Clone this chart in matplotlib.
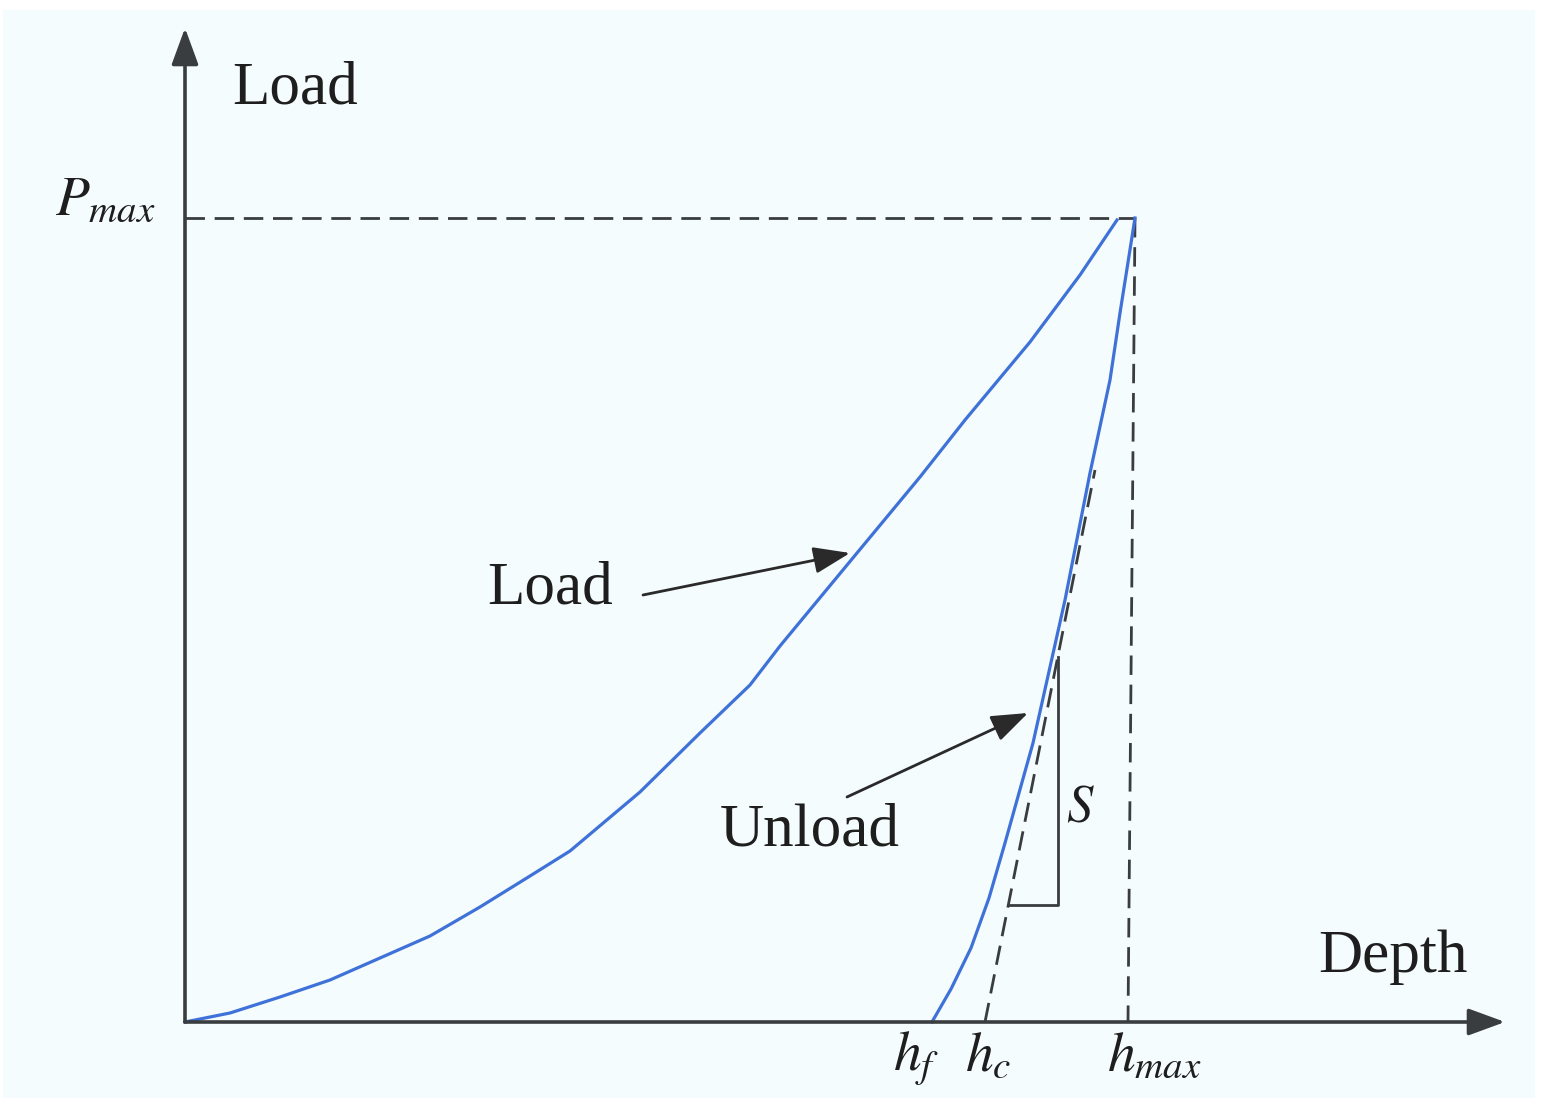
import matplotlib
matplotlib.use("Agg")
import matplotlib.pyplot as plt
from matplotlib.patches import Rectangle

plt.rcParams['font.family'] = 'Liberation Serif'
plt.rcParams['mathtext.fontset'] = 'stix'

# load branch (depth, load) in arbitrary units
load_depth = [0, 0.45, 0.95, 1.45, 1.95, 2.45, 2.95, 3.45, 3.85, 4.55, 5.15,
              5.65, 5.95, 6.72, 7.35, 7.80, 8.45, 8.95, 9.32]
load_force = [0, 0.09, 0.25, 0.42, 0.64, 0.86, 1.15, 1.46, 1.71, 2.30, 2.89,
              3.37, 3.76, 4.69, 5.45, 6.02, 6.80, 7.47, 8.02]

# unload branch
unload_depth = [9.50, 9.35, 9.25, 9.05, 8.80, 8.48, 8.20, 8.04, 7.86, 7.66, 7.47]
unload_force = [8.04, 7.09, 6.42, 5.49, 4.22, 2.79, 1.79, 1.24, 0.74, 0.33, 0.0]

p_max = 8.04
h_max = [9.50, 9.43]   # top / bottom of the dashed h_max line
h_c = 8.00
h_f = 7.47

# tangent (stiffness S) and its slope triangle
tangent_depth = [h_c, 9.10]
tangent_force = [0, 5.52]
tri_depth = [8.73, 8.73, 8.23]
tri_force = [3.65, 1.17, 1.17]

x_axis_end = 13.20
y_axis_end = 9.94

blue = '#3f72d8'
dark = '#3a3d40'
ink = '#1e1e1e'

fig = plt.figure(figsize=(15.57, 11.07), dpi=100)
fig.patch.set_facecolor('white')
fig.add_artist(Rectangle((3 / 1557, 9 / 1107), 1532 / 1557, 1088 / 1107,
                         transform=fig.transFigure, facecolor='#f5fcfd',
                         edgecolor='none', zorder=0))

ax = fig.add_axes([0, 0, 1, 1])
ax.set_xlim(-1.85, 13.72)
ax.set_ylim(-0.85, 10.22)
ax.axis('off')
ax.patch.set_alpha(0)

dash = (0, (7, 3.5))

# axes with arrow heads
axis_kw = dict(arrowstyle='-|>,head_length=1.5,head_width=0.55',
               mutation_scale=15, lw=2.6, color=dark, shrinkA=0, shrinkB=0)
ax.annotate('', xy=(x_axis_end, 0), xytext=(0, 0), arrowprops=axis_kw)
ax.annotate('', xy=(0, y_axis_end), xytext=(0, 0), arrowprops=axis_kw)

# dashed reference lines
ax.plot([0, h_max[0]], [p_max, p_max], color=dark, lw=2, linestyle=dash)
ax.plot(h_max, [p_max, 0], color=dark, lw=2, linestyle=dash)
ax.plot(tangent_depth, tangent_force, color=dark, lw=2, linestyle=dash)
ax.plot(tri_depth, tri_force, color=dark, lw=2)

# curves
ax.plot(load_depth, load_force, color=blue, lw=2.3, solid_joinstyle='round')
ax.plot(unload_depth, unload_force, color=blue, lw=2.3, solid_joinstyle='round')

# annotation arrows
arrow_kw = dict(arrowstyle='-|>,head_length=1.5,head_width=0.55',
                mutation_scale=15, lw=2, color='#2a2a2a', shrinkA=0, shrinkB=0)
ax.annotate('', xy=(6.65, 4.69), xytext=(4.58, 4.27), arrowprops=arrow_kw)
ax.annotate('', xy=(8.43, 3.09), xytext=(6.62, 2.25), arrowprops=arrow_kw)

# text
fs = 44
ax.text(0.47, 9.19, 'Load', fontsize=fs, ha='left', va='baseline', color=ink)
ax.text(3.02, 4.19, 'Load', fontsize=fs, ha='left', va='baseline', color=ink)
ax.text(5.35, 1.77, 'Unload', fontsize=fs, ha='left', va='baseline', color=ink)
ax.text(11.33, 0.50, 'Depth', fontsize=fs, ha='left', va='baseline', color=ink)
ax.text(8.81, 2.00, r'$S$', fontsize=38, ha='left', va='baseline', color=ink)
ax.text(-1.30, 8.07, r'$P_{max}$', fontsize=40, ha='left', va='baseline', color=ink)
ax.text(7.08, -0.48, r'$h_f$', fontsize=40, ha='left', va='baseline', color=ink)
ax.text(7.80, -0.48, r'$h_c$', fontsize=40, ha='left', va='baseline', color=ink)
ax.text(9.22, -0.48, r'$h_{max}$', fontsize=40, ha='left', va='baseline', color=ink)

fig.savefig('out.png', dpi=100)
